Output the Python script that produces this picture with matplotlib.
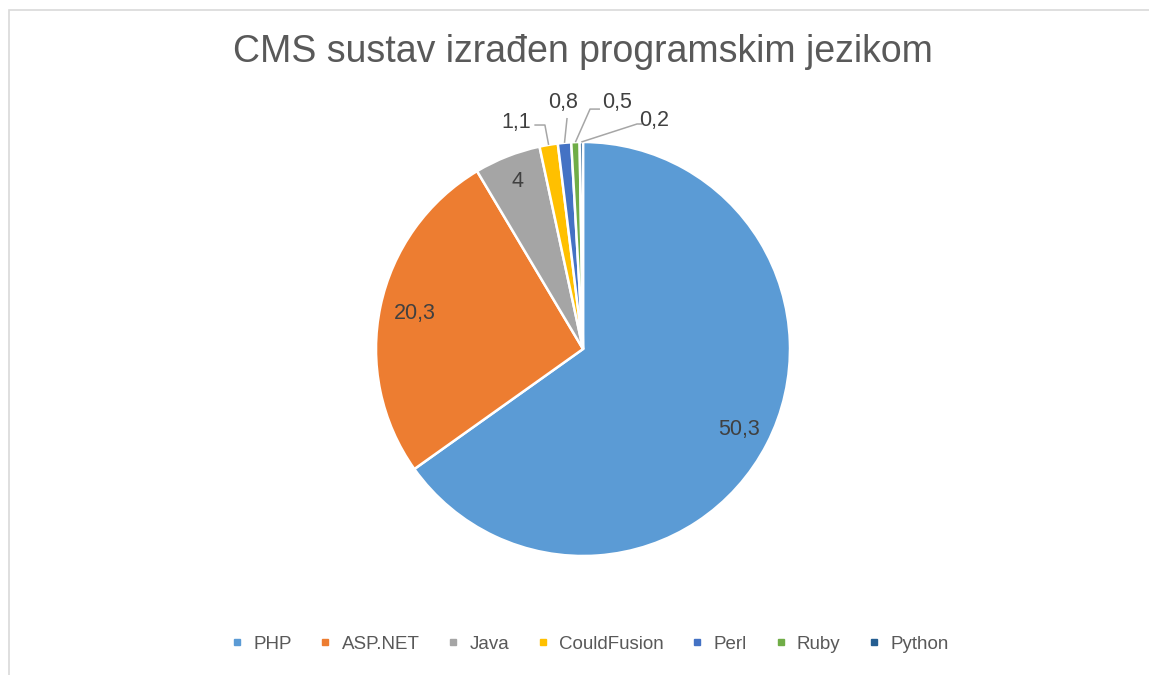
import numpy as np
import matplotlib
matplotlib.use("Agg")
import matplotlib.pyplot as plt
from matplotlib.lines import Line2D
from matplotlib.patches import Rectangle

# ---- data ----
categories = ["PHP", "ASP.NET", "Java", "CouldFusion", "Perl", "Ruby", "Python"]
values = [50.3, 20.3, 4, 1.1, 0.8, 0.5, 0.2]
value_labels = ["50,3", "20,3", "4", "1,1", "0,8", "0,5", "0,2"]
title = "CMS sustav izrađen programskim jezikom"

colors = ["#5B9BD5", "#ED7D31", "#A5A5A5", "#FFC000", "#4472C4", "#70AD47", "#255E91"]

plt.rcParams['font.family'] = ['Liberation Sans', 'DejaVu Sans']

W, H = 1149, 675
fig = plt.figure(figsize=(W / 100, H / 100), dpi=100)
fig.patch.set_facecolor("white")

# chart border
fig.add_artist(Rectangle((8.5 / W, -0.01), 1.1, (H - 9.5) / H + 0.01,
                         transform=fig.transFigure, fill=False,
                         edgecolor="#D9D9D9", linewidth=1.2))

cx, cy, r = 583, 349, 207
ax = fig.add_axes([(cx - r) / W, (H - cy - r) / H, 2 * r / W, 2 * r / H])
wedges, _ = ax.pie(values, colors=colors, startangle=90, counterclock=False,
                   radius=1, wedgeprops=dict(edgecolor="white", linewidth=1.8))
ax.set_xlim(-1, 1)
ax.set_ylim(-1, 1)
ax.set_aspect("equal")
ax.axis("off")
for w in wedges:
    w.set_clip_on(False)

lab_color = "#404040"
fs_lab = 15.5
# inside labels (first three)
inside_dist = [0.85, 0.83, 0.87]
for i in range(3):
    w = wedges[i]
    ang = np.deg2rad((w.theta1 + w.theta2) / 2)
    d = inside_dist[i]
    ax.text(d * np.cos(ang), d * np.sin(ang), value_labels[i], ha="center",
            va="center", fontsize=fs_lab, color=lab_color)

# outside labels with leader lines: (label pos, knee points)
outside = {
    3: dict(pos=(-0.325, 1.095), pts=[(-0.184, 1.082), (-0.235, 1.082)]),
    4: dict(pos=(-0.097, 1.19), pts=[(-0.077, 1.116)]),
    5: dict(pos=(0.165, 1.19), pts=[(0.034, 1.159), (0.082, 1.159)]),
    6: dict(pos=(0.345, 1.105), pts=[(0.261, 1.087), (0.285, 1.087)]),
}
for i, o in outside.items():
    w = wedges[i]
    ang = np.deg2rad((w.theta1 + w.theta2) / 2)
    x0, y0 = np.cos(ang), np.sin(ang)
    xs = [x0] + [p[0] for p in o["pts"]]
    ys = [y0] + [p[1] for p in o["pts"]]
    ax.plot(xs, ys, color="#A6A6A6", lw=1.1, clip_on=False, solid_capstyle="butt")
    ax.text(o["pos"][0], o["pos"][1], value_labels[i], ha="center", va="center",
            fontsize=fs_lab, color=lab_color, clip_on=False)

fig.text(cx / W, 1 - 52 / H, title, ha="center", va="center",
         fontsize=27, color="#595959")

handles = [Line2D([0], [0], marker="s", linestyle="none", markersize=5,
                  markerfacecolor=c, markeredgecolor=c) for c in colors]
fig.legend(handles, categories, loc="center", bbox_to_anchor=(590 / W, 1 - 644 / H),
           ncol=len(categories), frameon=False, fontsize=13.5, labelcolor="#595959",
           handlelength=0.6, handletextpad=0.56, columnspacing=1.5)

fig.savefig("out.png", dpi=100, facecolor="white")
